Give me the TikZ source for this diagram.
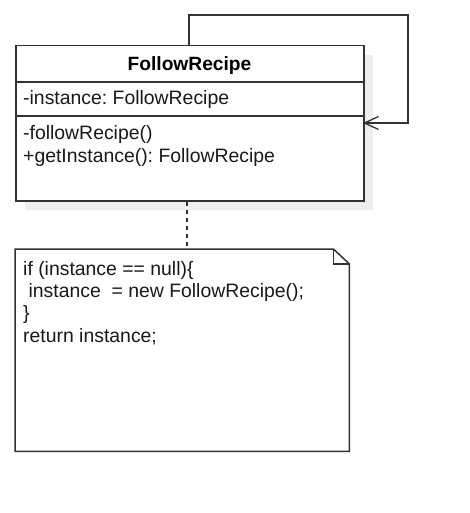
\documentclass[tikz,border=0pt]{standalone}
\usepackage{fontspec}
\setmainfont{Liberation Sans}
\usetikzlibrary{arrows.meta,calc}
\definecolor{ln}{HTML}{333333}
\definecolor{shd}{HTML}{EEEEEE}
\frenchspacing
\begin{document}
\begin{tikzpicture}[x=1pt,y=-1pt,
  box/.style={draw=ln,line width=1.5pt,fill=white,inner sep=0pt,anchor=north west},
  txt/.style={anchor=base west,inner sep=0pt,font=\fontsize{19.4}{22.5}\selectfont,text=black!90},
  conn/.style={draw=ln,line width=1.5pt}]
\useasboundingbox (0,0) rectangle (469,513);
% shadow
\fill[shd] (25,55) rectangle (373,210);
% class
\node[box,minimum width=348pt,minimum height=155pt] (cls) at (15,45) {};
\coordinate (sep1w) at (15,82); \coordinate (sep1e) at (363,82);
\coordinate (sep2w) at (15,116); \coordinate (sep2e) at (363,116);
\draw[conn] (sep1w) -- (sep1e);
\draw[conn] (sep2w) -- (sep2e);
\node[anchor=base,inner sep=0pt,font=\fontsize{19.2}{22.5}\selectfont\bfseries] (title) at (189.5,71) {FollowRecipe};
\node[txt] (attr) at (23,105) {-instance: FollowRecipe};
\node[txt] (m1) at (23,140) {-followRecipe()};
\node[txt] (m2) at (23,162.5) {+getInstance(): FollowRecipe};
% self association
\coordinate (lpA) at (189,15);
\coordinate (lpB) at (408,15);
\coordinate (lpC) at (408,123);
\coordinate (lpEnd) at (363,123);
\draw[conn,-{Straight Barb[length=14pt,width=13pt,line width=1.3pt]}] (cls.north -| lpA) -- (lpA) -- (lpB) -- (lpC) -- (lpEnd);
% note
\node[inner sep=0pt,minimum width=334pt,minimum height=202pt,anchor=north west] (note) at (15,249) {};
\draw[conn,fill=white,line join=miter] (note.north west) -- ($(note.north east)+(-16,0)$) -- ($(note.north east)+(0,15)$) -- (note.south east) -- (note.south west) -- cycle;
\draw[conn,line width=1.2pt] ($(note.north east)+(-16,0)$) -- ($(note.north east)+(-16,15)$) -- ($(note.north east)+(0,15)$);
\node[txt] (n1) at (23,275) {if (instance == null)\{};
\node[txt] (n2) at (23,297) {\ instance\ \ = new FollowRecipe();};
\node[txt] (n3) at (23,319.5) {\}};
\node[txt] (n4) at (23,342) {return instance;};
% dashed link
\draw[conn,dash pattern=on 4pt off 4pt] ([xshift=-3pt]cls.south) -- ([xshift=-3pt]cls.south |- note.north);
\end{tikzpicture}
\end{document}
